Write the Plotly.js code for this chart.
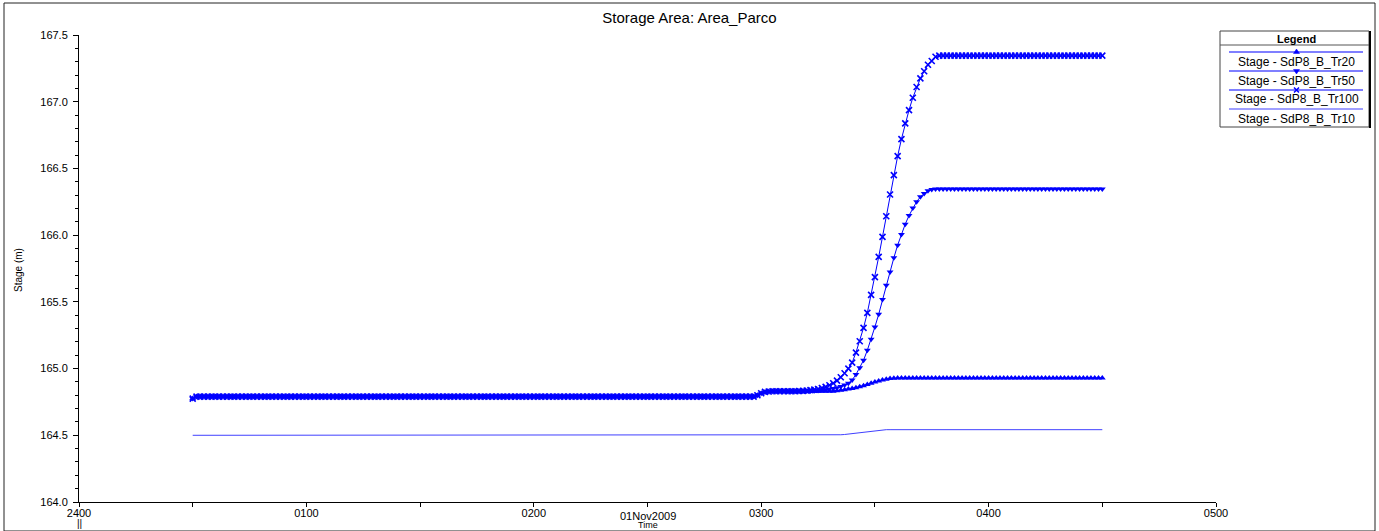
<!DOCTYPE html>
<html><head><meta charset="utf-8">
<script src="https://cdn.plot.ly/plotly-3.0.1.min.js"></script>
<style>html,body{margin:0;padding:0;background:#fff}#chart{width:1379px;height:531px}</style>
</head><body><div id="chart"></div>
<script>
const chartTitle = 'Storage Area: Area_Parco';
const yAxisTitle = 'Stage (m)';
const xAxisTitle = 'Time';
const dateLabel = '01Nov2009';
const seriesNames = ['Stage - SdP8_B_Tr20', 'Stage - SdP8_B_Tr50', 'Stage - SdP8_B_Tr100', 'Stage - SdP8_B_Tr10'];
const xTickMinutes = [0, 30, 60, 90, 120, 150, 180, 210, 240, 270, 300];
const xTickLabels = ['2400', '', '0100', '', '0200', '', '0300', '', '0400', '', '0500'];
const startMinute = 30;   // 00:30
const stepMinutes = 1;

// minutes 30..189, common to Tr20 / Tr50 / Tr100
const sharedStart = [
164.775,
164.79,164.79,164.79,164.79,164.79,164.79,164.79,164.79,164.79,164.79,
164.79,164.79,164.79,164.79,164.79,164.79,164.79,164.79,164.79,164.79,
164.79,164.79,164.79,164.79,164.79,164.79,164.79,164.79,164.79,164.79,
164.79,164.79,164.79,164.79,164.79,164.79,164.79,164.79,164.79,164.79,
164.79,164.79,164.79,164.79,164.79,164.79,164.79,164.79,164.79,164.79,
164.79,164.79,164.79,164.79,164.79,164.79,164.79,164.79,164.79,164.79,
164.79,164.79,164.79,164.79,164.79,164.79,164.79,164.79,164.79,164.79,
164.79,164.79,164.79,164.79,164.79,164.79,164.79,164.79,164.79,164.79,
164.79,164.79,164.79,164.79,164.79,164.79,164.79,164.79,164.79,164.79,
164.79,164.79,164.79,164.79,164.79,164.79,164.79,164.79,164.79,164.79,
164.79,164.79,164.79,164.79,164.79,164.79,164.79,164.79,164.79,164.79,
164.79,164.79,164.79,164.79,164.79,164.79,164.79,164.79,164.79,164.79,
164.79,164.79,164.79,164.79,164.79,164.79,164.79,164.79,164.79,164.79,
164.79,164.79,164.79,164.79,164.79,164.79,164.79,164.79,164.79,164.79,
164.79,164.79,164.79,164.79,164.79,164.79,164.79,164.79,
164.80,164.815,164.825,164.828,
164.83,164.83,164.83,164.83,164.83,164.83,164.83
];
// minutes 190..270
const tr20Tail = [
164.83,164.83,164.83,164.83,164.83,164.83,164.83,164.83,164.83,164.83,
164.834,164.838,164.842,164.846,164.851,164.857,164.864,164.872,164.881,164.89,
164.899,164.907,164.914,164.92,164.925,164.928,
164.93,164.93,164.93,164.93,164.93,164.93,164.93,164.93,164.93,164.93,
164.93,164.93,164.93,164.93,164.93,164.93,164.93,164.93,164.93,164.93,
164.93,164.93,164.93,164.93,164.93,164.93,164.93,164.93,164.93,164.93,
164.93,164.93,164.93,164.93,164.93,164.93,164.93,164.93,164.93,164.93,
164.93,164.93,164.93,164.93,164.93,164.93,164.93,164.93,164.93,164.93,
164.93,164.93,164.93,164.93,164.93
];
const tr50Tail = [
164.83,164.83,164.831,164.832,164.834,164.836,164.839,164.842,164.846,164.851,
164.857,164.865,164.876,164.89,164.915,164.955,165.007,165.062,165.137,165.22,
165.312,165.407,165.517,165.625,165.724,165.83,165.925,166.005,166.082,166.147,
166.204,166.25,166.287,166.313,166.332,166.342,
166.345,166.345,166.345,166.345,166.345,166.345,166.345,166.345,166.345,166.345,
166.345,166.345,166.345,166.345,166.345,166.345,166.345,166.345,166.345,166.345,
166.345,166.345,166.345,166.345,166.345,166.345,166.345,166.345,166.345,166.345,
166.345,166.345,166.345,166.345,166.345,166.345,166.345,166.345,166.345,166.345,
166.345,166.345,166.345,166.345,166.345
];
const tr100Tail = [
164.832,164.833,164.835,164.838,164.842,164.847,164.854,164.863,164.875,164.89,
164.91,164.935,164.965,165.0,165.045,165.12,165.205,165.305,165.417,165.552,
165.685,165.837,165.987,166.142,166.305,166.45,166.592,166.72,166.838,166.937,
167.03,167.11,167.175,167.228,167.277,167.305,167.337,
167.345,167.345,167.345,167.345,167.345,167.345,167.345,167.345,167.345,167.345,
167.345,167.345,167.345,167.345,167.345,167.345,167.345,167.345,167.345,167.345,
167.345,167.345,167.345,167.345,167.345,167.345,167.345,167.345,167.345,167.345,
167.345,167.345,167.345,167.345,167.345,167.345,167.345,167.345,167.345,167.345,
167.345,167.345,167.345,167.345
];
// minutes 30..270
const tr10 = [
164.5,164.5,164.5,164.5,164.5,164.5,164.5,164.5,164.5,164.5,
164.5,164.5,164.5,164.5,164.5,164.5,164.5,164.5,164.5,164.5,
164.5,164.5,164.5,164.5,164.5,164.5,164.5,164.5,164.5,164.5,
164.5,164.5,164.5,164.5,164.5,164.5,164.5,164.5,164.5,164.5,
164.5,164.5,164.5,164.5,164.5,164.5,164.5,164.5,164.5,164.5,
164.5,164.5,164.5,164.5,164.5,164.5,164.5,164.5,164.5,164.5,
164.5,164.5,164.5,164.5,164.5,164.5,164.5,164.5,164.5,164.5,
164.5,164.5,164.5,164.5,164.5,164.5,164.5,164.5,164.5,164.5,
164.5,164.5,164.5,164.5,164.5,164.5,164.5,164.5,164.5,164.5,
164.5,164.5,164.5,164.5,164.5,164.5,164.5,164.5,164.5,164.5,
164.5,164.5,164.5,164.5,164.5,164.5,164.5,164.5,164.5,164.5,
164.5,164.5,164.5,164.5,164.5,164.5,164.5,164.5,164.5,164.5,
164.5,164.5,164.5,164.5,164.5,164.5,164.5,164.5,164.5,164.5,
164.5,164.5,164.5,164.5,164.5,164.5,164.5,164.5,164.5,164.5,
164.5,164.5,164.5,164.5,
164.502,164.502,164.502,164.502,164.502,164.502,164.502,164.502,164.502,164.502,
164.502,164.502,164.502,164.502,164.502,164.502,164.502,164.502,164.502,164.502,
164.502,164.502,164.502,164.502,164.502,164.502,164.502,
164.504,164.506,164.509,164.513,164.517,164.521,164.525,164.529,164.533,164.536,
164.539,164.541,
164.542,164.542,164.542,164.542,164.542,164.542,164.542,164.542,164.542,164.542,
164.542,164.542,164.542,164.542,164.542,164.542,164.542,164.542,164.542,164.542,
164.542,164.542,164.542,164.542,164.542,164.542,164.542,164.542,164.542,164.542,
164.542,164.542,164.542,164.542,164.542,164.542,164.542,164.542,164.542,164.542,
164.542,164.542,164.542,164.542,164.542,164.542,164.542,164.542,164.542,164.542,
164.542,164.542,164.542,164.542,164.542,164.542,164.542,164.542
];
const tr20 = sharedStart.concat(tr20Tail);
const tr50 = sharedStart.concat(tr50Tail);
const tr100 = sharedStart.concat(tr100Tail);

// ---- geometry helpers (pixel -> paper) ----
const W = 1379, H = 531, mL = 4, mR = 4, mT = 3, mB = 0;
const PW = W - mL - mR, PH = H - mT - mB;
const fx = px => (px - mL) / PW;
const fy = py => 1 - (py - mT) / PH;
const FONT = 'Liberation Sans, Arial, sans-serif';
const BLUE = '#0000ff';
const TR10C = '#4040ff';

const traces = [
  {name: seriesNames[3], y: tr10, x0: startMinute, dx: stepMinutes, mode: 'lines',
   line: {color: TR10C, width: 1}},
  {name: seriesNames[0], y: tr20, x0: startMinute, dx: stepMinutes, mode: 'lines+markers',
   line: {color: BLUE, width: 1}, marker: {symbol: 'triangle-up', size: 6, color: BLUE}},
  {name: seriesNames[1], y: tr50, x0: startMinute, dx: stepMinutes, mode: 'lines+markers',
   line: {color: BLUE, width: 1}, marker: {symbol: 'triangle-down', size: 6, color: BLUE}},
  {name: seriesNames[2], y: tr100, x0: startMinute, dx: stepMinutes, mode: 'lines+markers',
   line: {color: BLUE, width: 1}, marker: {symbol: 'x-thin', size: 6, color: BLUE, line: {color: BLUE, width: 1.6}}}
];

// ---- custom legend (box with line samples above labels) ----
const LX0 = 1220, LX1 = 1369, LY0 = 31, LY1 = 127, LCX = 1296.5;
const sampleY = [52, 71, 90, 109];
const labelY = [62, 81, 99.5, 118.5];
const shapes = [
  {type: 'rect', xref: 'paper', yref: 'paper', x0: 0, x1: 1, y0: 0, y1: 1, line: {color: '#222', width: 1}},
  {type: 'rect', xref: 'paper', yref: 'paper', x0: fx(LX0), x1: fx(LX1), y0: fy(LY1), y1: fy(LY0),
   line: {color: '#444', width: 1}, fillcolor: '#fff'},
  {type: 'line', xref: 'paper', yref: 'paper', x0: fx(LX1 + 1), x1: fx(LX1 + 1), y0: fy(LY1 + 1), y1: fy(LY0),
   line: {color: '#000', width: 2}},
  {type: 'line', xref: 'paper', yref: 'paper', x0: fx(LX0), x1: fx(LX1), y0: fy(45), y1: fy(45),
   line: {color: '#555', width: 1}}
];
sampleY.forEach((sy, i) => {
  shapes.push({type: 'line', xref: 'paper', yref: 'paper', x0: fx(1229), x1: fx(1363), y0: fy(sy), y1: fy(sy),
    line: {color: i === 3 ? TR10C : BLUE, width: 1.2}});
});
const P = (a, b) => fx(a) + ',' + fy(b);
shapes.push({type: 'path', xref: 'paper', yref: 'paper', fillcolor: BLUE, line: {color: BLUE, width: 0.5},
  path: 'M' + P(LCX - 3, sampleY[0] + 1.5) + 'L' + P(LCX + 3, sampleY[0] + 1.5) + 'L' + P(LCX, sampleY[0] - 3) + 'Z'});
shapes.push({type: 'path', xref: 'paper', yref: 'paper', fillcolor: BLUE, line: {color: BLUE, width: 0.5},
  path: 'M' + P(LCX - 3, sampleY[1] - 1.5) + 'L' + P(LCX + 3, sampleY[1] - 1.5) + 'L' + P(LCX, sampleY[1] + 3) + 'Z'});
shapes.push({type: 'path', xref: 'paper', yref: 'paper', line: {color: BLUE, width: 1.5},
  path: 'M' + P(LCX - 2.5, sampleY[2] - 2.5) + 'L' + P(LCX + 2.5, sampleY[2] + 2.5) +
        'M' + P(LCX - 2.5, sampleY[2] + 2.5) + 'L' + P(LCX + 2.5, sampleY[2] - 2.5)});

const annotations = [
  {text: '<b>Legend</b>', xref: 'paper', yref: 'paper', x: fx(LCX), y: fy(39), showarrow: false,
   xanchor: 'center', yanchor: 'middle', font: {family: FONT, size: 11, color: '#000'}},
  {text: dateLabel, xref: 'x', yref: 'paper', x: 150, y: fy(516), showarrow: false,
   xanchor: 'center', yanchor: 'middle', font: {family: FONT, size: 11, color: '#000'}},
  {text: '||', xref: 'x', yref: 'paper', x: 0, y: fy(523), showarrow: false,
   xanchor: 'center', yanchor: 'middle', font: {family: FONT, size: 10, color: '#000'}},
  {text: yAxisTitle, xref: 'paper', yref: 'paper', x: fx(18), y: fy(270), textangle: -90, showarrow: false,
   xanchor: 'center', yanchor: 'middle', font: {family: FONT, size: 10, color: '#000'}},
  {text: xAxisTitle, xref: 'x', yref: 'paper', x: 150, y: fy(530.5), showarrow: false,
   xanchor: 'center', yanchor: 'bottom', borderpad: 0, font: {family: FONT, size: 9, color: '#000'}}
];
[seriesNames[0], seriesNames[1], seriesNames[2], seriesNames[3]].forEach((nm, i) => {
  annotations.push({text: nm, xref: 'paper', yref: 'paper', x: fx(LCX), y: fy(labelY[i]), showarrow: false,
    xanchor: 'center', yanchor: 'middle', font: {family: FONT, size: 12, color: '#000'}});
});

const layout = {
  width: W, height: H,
  margin: {l: mL, r: mR, t: mT, b: mB, pad: 0},
  paper_bgcolor: '#fff', plot_bgcolor: '#fff',
  showlegend: false,
  font: {family: FONT, size: 11, color: '#000'},
  title: {text: chartTitle, x: 0.5, xref: 'paper', xanchor: 'center', y: 1 - 18 / H, yref: 'container',
          yanchor: 'middle', font: {family: FONT, size: 15, color: '#000'}},
  xaxis: {domain: [fx(79), fx(1216)], range: [0, 300], tickmode: 'array', tickvals: xTickMinutes, ticktext: xTickLabels,
          ticks: 'outside', ticklen: 4, tickcolor: '#000', tickwidth: 1, ticklabelstandoff: -3,
          showline: true, linecolor: '#000', linewidth: 1, showgrid: false, zeroline: false,
          tickfont: {family: FONT, size: 11, color: '#000'}, automargin: false},
  yaxis: {domain: [fy(502), fy(35)], range: [164.0, 167.5], tickmode: 'linear', tick0: 164, dtick: 0.5, tickformat: '.1f',
          ticks: 'outside', ticklen: 5, tickcolor: '#000', tickwidth: 1, ticklabelstandoff: 3,
          minor: {dtick: 0.1, tick0: 164, ticks: 'outside', ticklen: 3, tickcolor: '#000', showgrid: false},
          showline: true, linecolor: '#000', linewidth: 1, showgrid: false, zeroline: false,
          tickfont: {family: FONT, size: 11, color: '#000'}, automargin: false},
  shapes: shapes,
  annotations: annotations
};

Plotly.newPlot('chart', traces, layout, {staticPlot: true, displayModeBar: false});
</script>
</body></html>
